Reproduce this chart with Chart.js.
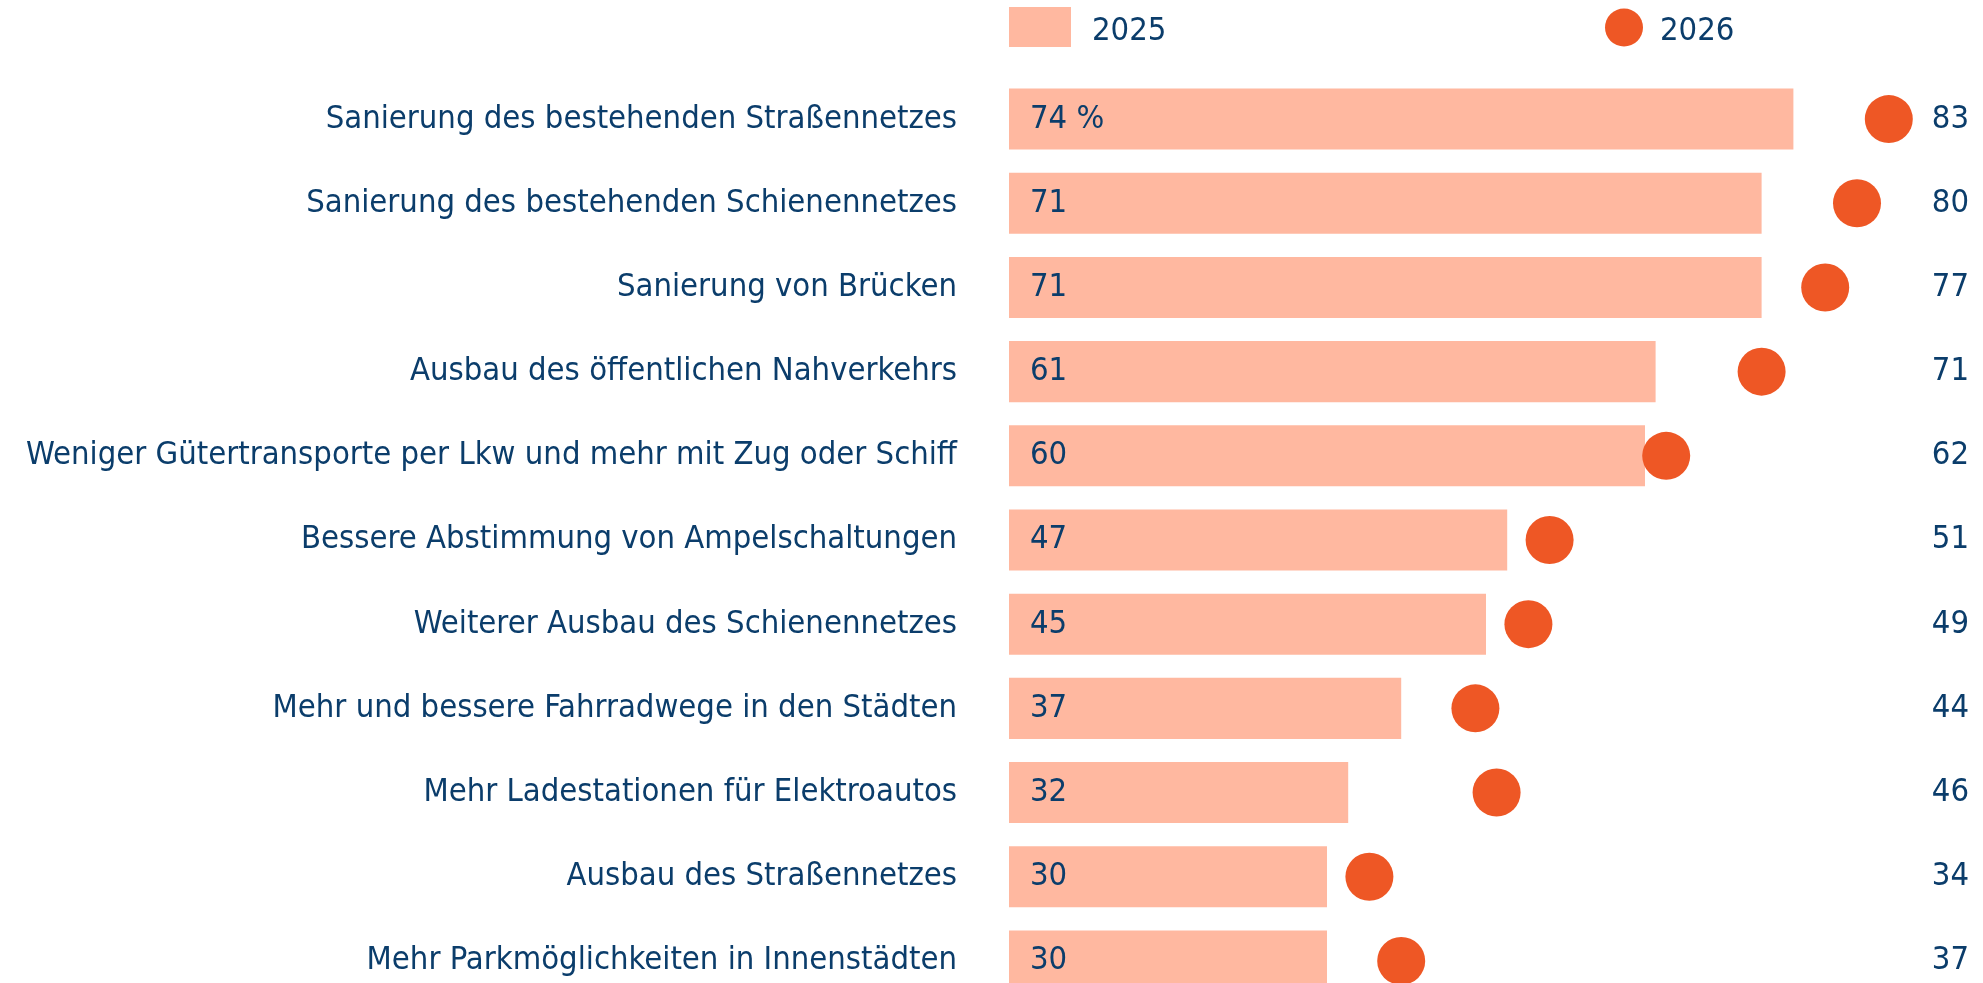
<!DOCTYPE html>
<html>
<head>
<meta charset="utf-8">
<script src="https://cdn.jsdelivr.net/npm/chart.js@4/dist/chart.umd.min.js"></script>
<style>
  html, body { margin: 0; padding: 0; background: #fff; overflow: hidden; }
  #wrap { position: relative; width: 1983px; height: 1010px; }
  canvas { display: block; }
</style>
</head>
<body>
<div id="wrap"><canvas id="grafico" width="1983" height="1010"></canvas></div>
<script>
// Datos
const categorias = [
  'Sanierung des bestehenden Straßennetzes',
  'Sanierung des bestehenden Schienennetzes',
  'Sanierung von Brücken',
  'Ausbau des öffentlichen Nahverkehrs',
  'Weniger Gütertransporte per Lkw und mehr mit Zug oder Schiff',
  'Bessere Abstimmung von Ampelschaltungen',
  'Weiterer Ausbau des Schienennetzes',
  'Mehr und bessere Fahrradwege in den Städten',
  'Mehr Ladestationen für Elektroautos',
  'Ausbau des Straßennetzes',
  'Mehr Parkmöglichkeiten in Innenstädten'
];
const valores2025 = [74, 71, 71, 61, 60, 47, 45, 37, 32, 30, 30];
const valores2026 = [83, 80, 77, 71, 62, 51, 49, 44, 46, 34, 37];
const etiquetasSerie = ['2025', '2026'];

const colorBarra = '#FFB8A0';
const colorPunto = '#EE5725';
const colorTexto = '#0B3D6B';
const fuente = '"DejaVu Sans Condensed", "DejaVu Sans", sans-serif';
const tamFuente = 32.5;

// Etiquetas de valores y leyenda propia
const pluginEtiquetas = {
  id: 'etiquetas',
  afterDatasetsDraw(chart) {
    const ctx = chart.ctx;
    const area = chart.chartArea;
    const yScale = chart.scales.y;
    ctx.save();
    ctx.font = `${tamFuente}px ${fuente}`;
    ctx.fillStyle = colorTexto;
    ctx.textBaseline = 'middle';
    valores2025.forEach((v, i) => {
      const y = yScale.getPixelForValue(i);
      ctx.textAlign = 'left';
      ctx.fillText(i === 0 ? v + ' %' : String(v), area.left + 21, y);
      ctx.textAlign = 'right';
      ctx.fillText(String(valores2026[i]), chart.width - 14, y);
    });

    // leyenda
    ctx.fillStyle = colorBarra;
    ctx.fillRect(area.left, 7, 62, 40);
    ctx.fillStyle = colorPunto;
    ctx.beginPath();
    ctx.arc(area.left + 615, 27.5, 19, 0, Math.PI * 2);
    ctx.fill();
    ctx.fillStyle = colorTexto;
    ctx.textAlign = 'left';
    ctx.fillText(etiquetasSerie[0], area.left + 83, 32);
    ctx.fillText(etiquetasSerie[1], area.left + 651, 32);
    ctx.restore();
  }
};

const ctx = document.getElementById('grafico').getContext('2d');
new Chart(ctx, {
  data: {
    labels: categorias,
    datasets: [
      {
        type: 'line',
        label: etiquetasSerie[1],
        data: valores2026,
        showLine: false,
        pointRadius: 24,
        pointHoverRadius: 24,
        pointBackgroundColor: colorPunto,
        pointBorderWidth: 0,
        borderColor: colorPunto,
        clip: false,
        order: 1
      },
      {
        type: 'bar',
        label: etiquetasSerie[0],
        data: valores2025,
        backgroundColor: colorBarra,
        barPercentage: 0.725,
        categoryPercentage: 1,
        order: 2
      }
    ]
  },
  options: {
    indexAxis: 'y',
    responsive: false,
    animation: false,
    layout: { autoPadding: false, padding: { top: 77, bottom: 7, left: 0, right: 20 } },
    plugins: {
      legend: { display: false },
      tooltip: { enabled: false }
    },
    scales: {
      x: { display: false, min: 0, max: 90 },
      y: {
        offset: true,
        grid: { display: false, drawTicks: false },
        border: { display: false },
        ticks: {
          color: colorTexto,
          padding: 52,
          font: { family: fuente, size: tamFuente }
        },
        afterFit(scale) {
          scale.width = 1009;
          // sin relleno extra arriba/abajo
          scale.paddingTop = 0;
          scale.paddingBottom = 0;
        }
      }
    }
  },
  plugins: [pluginEtiquetas]
});
</script>
</body>
</html>
